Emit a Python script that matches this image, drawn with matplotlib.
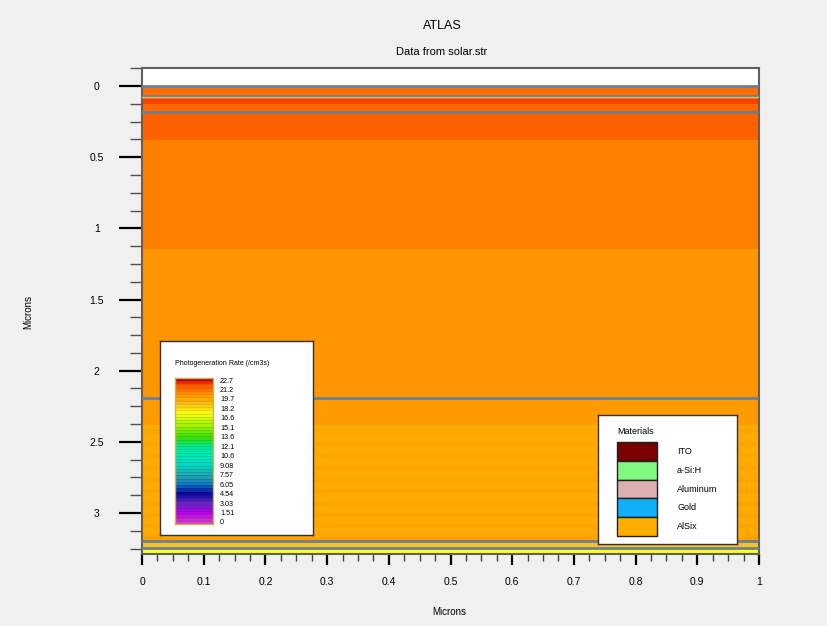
import numpy as np
import matplotlib
matplotlib.use("Agg")
import matplotlib.pyplot as plt
from matplotlib.colors import LinearSegmentedColormap, Normalize
from matplotlib.patches import Rectangle
from matplotlib.ticker import MultipleLocator, FixedLocator

plt.rcParams['font.family'] = ['Liberation Sans', 'DejaVu Sans']

# ---------------- data ----------------
title = "ATLAS"
subtitle = "Data from solar.str"
x_label = "Microns"
y_label = "Microns"

# layer boundaries (microns, depth) and photogeneration value per layer
layer_edges = [0.0, 0.07, 0.09, 0.125, 0.18, 0.377, 1.143, 2.19, 2.38,
               2.41, 2.44, 2.50, 2.53, 2.58, 2.61, 2.67, 2.70, 2.75, 2.78,
               2.83, 2.86, 2.92, 2.95, 3.00, 3.03, 3.08, 3.11, 3.15, 3.17,
               3.20, 3.247, 3.30]
layer_values = [21.4, 21.45, 22.0, 21.5, 21.55, 21.0, 20.4, 20.3,
                19.5, 19.85, 19.55, 19.85, 19.55, 19.85, 19.55, 19.85, 19.55,
                19.85, 19.55, 19.85, 19.55, 19.85, 19.55, 19.85, 19.55, 19.85,
                19.55, 19.85, 20.0, 18.8, 17.4]
interfaces = [0.0, 0.07, 0.18, 2.19, 3.20, 3.247]

scale_min, scale_max = 0.0, 22.7
scale_labels = ['22.7', '21.2', '19.7', '18.2', '16.6', '15.1', '13.6', '12.1',
                '10.6', '9.08', '7.57', '6.05', '4.54', '3.03', '1.51', '0']
scale_title = "Photogeneration Rate (/cm3s)"

materials = ['ITO', 'a-Si:H', 'Aluminum', 'Gold', 'AlSix']
material_colors = ['#7a0000', '#80f880', '#dcb0b0', '#10b0f8', '#ffae00']

x_ticks = [0, 0.1, 0.2, 0.3, 0.4, 0.5, 0.6, 0.7, 0.8, 0.9, 1]
x_tick_labels = ['0', '0.1', '0.2', '0.3', '0.4', '0.5', '0.6', '0.7', '0.8', '0.9', '1']
y_ticks = [0, 0.5, 1, 1.5, 2, 2.5, 3]
y_tick_labels = ['0', '0.5', '1', '1.5', '2', '2.5', '3']

# colormap anchors (value, colour)
cmap_anchors = [(0.0, '#d840c8'), (1.51, '#b000e8'), (3.03, '#6428c0'),
                (4.54, '#0808a0'), (6.05, '#1078c0'), (7.57, '#20a8b0'),
                (9.08, '#00d8c0'), (10.6, '#00e8b8'), (12.1, '#00e890'),
                (13.6, '#38e000'), (15.1, '#90f000'), (16.6, '#d8f800'),
                (17.4, '#ffff20'), (18.2, '#ffe000'), (18.8, '#f8c428'),
                (19.4, '#ffb000'), (19.95, '#ffa200'), (20.4, '#ff9800'),
                (21.0, '#ff8000'), (21.5, '#ff6a00'), (22.0, '#ff4800'),
                (22.7, '#c00000')]

# ---------------- figure ----------------
W, H = 827, 626
fig = plt.figure(figsize=(W / 100, H / 100), dpi=100, facecolor='#f0f0f0')


def px(x, y, w, h):
    return [x / W, 1 - (y + h) / H, w / W, h / H]


cmap = LinearSegmentedColormap.from_list(
    'atlas', [((v - scale_min) / (scale_max - scale_min), c) for v, c in cmap_anchors])
norm = Normalize(scale_min, scale_max)

ax = fig.add_axes(px(142, 68, 617, 485.5))
ax.set_facecolor('white')
C = np.array(layer_values)[:, None]
ax.pcolormesh([0, 1], layer_edges, C, cmap=cmap, norm=norm, shading='flat')
for yv in interfaces:
    ax.axhline(yv, color='#6a8094', lw=2.0, zorder=3)
ax.axhline(0.08, color='#d8b878', lw=1.0, zorder=3)

ax.set_xlim(0, 1)
ax.set_ylim(3.285, -0.127)
ax.xaxis.set_major_locator(FixedLocator(x_ticks))
ax.set_xticklabels(x_tick_labels)
ax.xaxis.set_minor_locator(MultipleLocator(0.025))
ax.yaxis.set_major_locator(FixedLocator(y_ticks))
ax.set_yticklabels(y_tick_labels)
ax.yaxis.set_minor_locator(MultipleLocator(0.125))
ax.tick_params(axis='x', which='major', direction='out', length=8, width=1.6,
               color='black', labelsize=7.5, pad=9)
ax.tick_params(axis='x', which='minor', direction='out', length=5, width=1.0,
               color='#404040')
ax.tick_params(axis='y', which='major', direction='out', length=16.5, width=1.6,
               color='black', labelsize=7.5, pad=16)
ax.tick_params(axis='y', which='minor', direction='out', length=8.5, width=1.0,
               color='#505050')
for lab in ax.get_yticklabels():
    lab.set_horizontalalignment('center')
for sp in ax.spines.values():
    sp.set_color('#606060')
    sp.set_linewidth(1.5)

fig.text(442 / W, 1 - 26 / H, title, ha='center', va='center', fontsize=9)
fig.text(442 / W, 1 - 52 / H, subtitle, ha='center', va='center', fontsize=8)
fig.text(449 / W, 1 - 612 / H, x_label, ha='center', va='center', fontsize=7)
fig.text(28 / W, 1 - 312 / H, y_label, ha='center', va='center', fontsize=7,
         rotation=90)

# ---------------- photogeneration legend ----------------
lb = fig.add_axes(px(160, 341, 153, 194), zorder=5)
lb.set_xticks([]); lb.set_yticks([])
lb.set_facecolor('white')
for sp in lb.spines.values():
    sp.set_color('#303030'); sp.set_linewidth(1.0)
lb.text(15 / 153, 1 - 22 / 194, scale_title, transform=lb.transAxes,
        ha='left', va='center', fontsize=5)

cb = fig.add_axes(px(175, 378, 38, 146), zorder=6)
n_bands = 45
edges = np.linspace(scale_min - 0.32, scale_max + 0.32, n_bands + 1)
centers = 0.5 * (edges[:-1] + edges[1:])
cb.pcolormesh([0, 1], edges, np.clip(centers, scale_min, scale_max)[:, None],
              cmap=cmap, norm=norm, shading='flat')
for e in edges[1:-1]:
    cb.axhline(e, color='#000000', lw=0.4, alpha=0.18)
cb.set_xlim(0, 1)
cb.set_ylim(edges[0], edges[-1])
cb.set_xticks([])
cb.yaxis.tick_right()
cb.set_yticks(np.linspace(scale_max, scale_min, len(scale_labels)))
cb.set_yticklabels(scale_labels)
cb.tick_params(axis='y', length=0, pad=5, labelsize=5.2)
for sp in cb.spines.values():
    sp.set_color('#c8b450'); sp.set_linewidth(1.0)

# ---------------- materials legend ----------------
mb = fig.add_axes(px(598, 415, 139, 129), zorder=5)
mb.set_xlim(598, 737)
mb.set_ylim(544, 415)
mb.set_xticks([]); mb.set_yticks([])
mb.set_facecolor('white')
for sp in mb.spines.values():
    sp.set_color('#303030'); sp.set_linewidth(1.0)
mb.text(617, 432, "Materials", ha='left', va='center', fontsize=6.5)
sw_top, sw_h = 442, 18.8
for i, (name, col) in enumerate(zip(materials, material_colors)):
    y0 = sw_top + i * sw_h
    mb.add_patch(Rectangle((617, y0), 40, sw_h, facecolor=col,
                           edgecolor='#202020', lw=1.0))
    mb.text(677, y0 + sw_h / 2, name, ha='left', va='center', fontsize=6.5)

fig.savefig('out.png', dpi=100, facecolor=fig.get_facecolor())
